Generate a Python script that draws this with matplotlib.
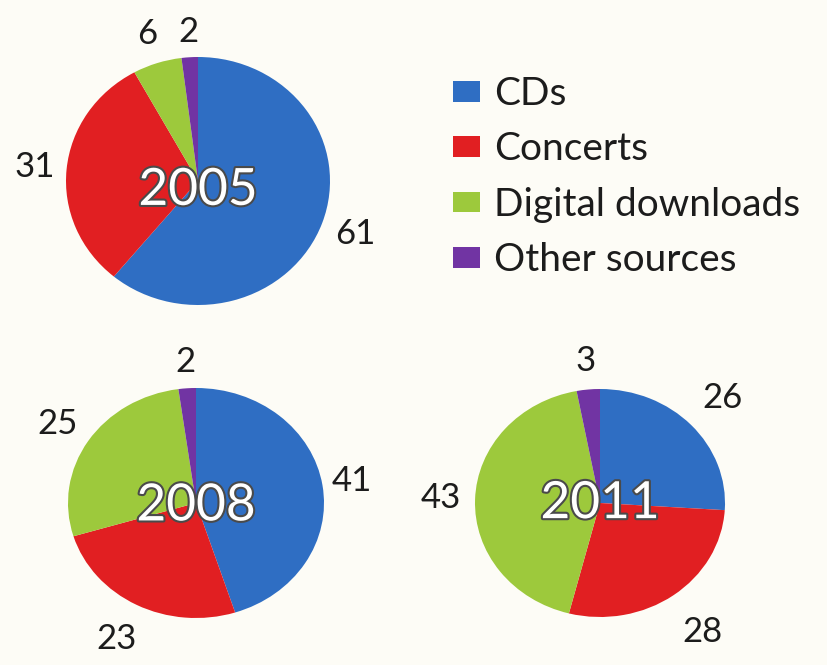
import matplotlib.pyplot as plt
import matplotlib.patheffects as pe
import numpy as np

plt.rcParams['font.family'] = ['Lato', 'DejaVu Sans']

categories = ['CDs', 'Concerts', 'Digital downloads', 'Other sources']
years = ['2005', '2008', '2011']
values_2005 = [61, 31, 6, 2]
values_2008 = [41, 23, 25, 2]
values_2011 = [26, 28, 43, 3]

colors = ['#2F6EC3', '#E11F22', '#9DC93C', '#7134A3']
bg = '#FDFCF6'

W, H = 827, 665
fig = plt.figure(figsize=(W / 100, H / 100), dpi=100, facecolor=bg)


def add_pie_axes(cx, cy, hw, hh):
    # pixel centre / half sizes -> figure fraction
    ax = fig.add_axes([(cx - hw) / W, 1 - (cy + hh) / H, 2 * hw / W, 2 * hh / H])
    ax.axis('off')
    return ax


pies = [
    (values_2005, years[0], (198, 181, 132, 124), [1.27, 1.24, 1.25, 1.20], -0.08),
    (values_2008, years[1], (196, 503, 128, 115), [1.23, 1.34, 1.28, 1.23], -0.03),
    (values_2011, years[2], (600, 503, 125, 114), [1.34, 1.40, 1.27, 1.25], -0.01),
]

wedges_first = None
for vals, year, box, dists, ydy in pies:
    ax = add_pie_axes(*box)
    wedges, _ = ax.pie(vals, colors=colors, startangle=90, counterclock=False,
                       radius=1, wedgeprops=dict(linewidth=0))
    ax.set_xlim(-1, 1)
    ax.set_ylim(-1, 1)
    ax.set_aspect('auto')
    if wedges_first is None:
        wedges_first = wedges
    for w, v, d in zip(wedges, vals, dists):
        ang = np.deg2rad((w.theta1 + w.theta2) / 2)
        ax.text(d * np.cos(ang), d * np.sin(ang), str(v), ha='center', va='center',
                fontsize=25, color='#1c1c1c', clip_on=False)
    ax.text(0.0, ydy, year, ha='center', va='center', fontsize=37, color='white',
            path_effects=[pe.withStroke(linewidth=3, foreground='#4a4a4a')])

leg = fig.legend(wedges_first, categories, loc='upper left',
                 bbox_to_anchor=(453 / W, 1 - 76 / H), frameon=False,
                 fontsize=28, handlelength=0.7, handleheight=0.45,
                 handletextpad=0.35, labelspacing=0.5, borderpad=0,
                 borderaxespad=0)
for t in leg.get_texts():
    t.set_color('#1c1c1c')

fig.savefig('out.png', dpi=100, facecolor=bg)
